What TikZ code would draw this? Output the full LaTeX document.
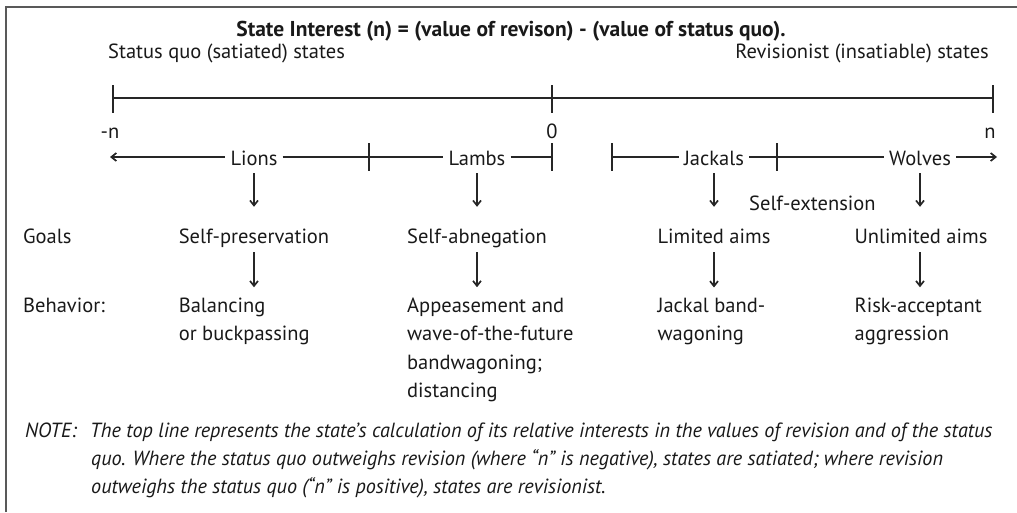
\documentclass[tikz,border=0pt]{standalone}
\usepackage{fontspec}
\usepackage{graphicx}
\setmainfont{PT Sans}
\usetikzlibrary{arrows.meta,calc}
\newcommand{\fs}{\fontsize{20.5}{28.5}\selectfont}
\newcommand{\notesq}[1]{\scalebox{0.985}[1]{#1}}
\begin{document}
\begin{tikzpicture}[x=1pt,y=-1pt,
  >={Straight Barb[length=5pt,width=8pt,line width=1.7pt]},
  every node/.style={inner sep=0pt,font=\fs,text=black!90},
  online/.style={inner xsep=5pt,inner ysep=0pt,text height=16pt,text depth=0pt},
  goal/.style={anchor=base,text height=15pt,text depth=4.5pt},
  axis/.style={line width=1.6pt,black!85},
  arr/.style={line width=1.6pt,black!85,->},
  multi/.style={align=left,anchor=base west},
  ]
\useasboundingbox (0,0) rectangle (1017,512);
% frame
\draw[line width=1.8pt,black!65] (6,512) -- (6,7) -- (1017,7);

% title and headers
\node[font=\bfseries\fontsize{21.5}{26}\selectfont,anchor=base] (title) at (511,36) {State Interest (n) = (value of revison) - (value of status quo).};
\node[anchor=base west] (sq) at (108,58) {Status quo (satiated) states};
\node[anchor=base east] (rv) at (989,58) {Revisionist (insatiable) states};

% top axis
\coordinate (A0) at (113,98);
\coordinate (A1) at (552,98);
\coordinate (A2) at (993,98);
\draw[axis] (A0) -- (A2);
\draw[axis] (A0) ++(0,-13) -- ++(0,28);
\draw[axis] (A1) ++(0,-13) -- ++(0,28);
\draw[axis] (A2) ++(0,-13) -- ++(0,28);
\node[anchor=base] (mn) at (110,138) {-n};
\node[anchor=base] (zero) at (552,138) {0};
\node[anchor=base] (pn) at (990,138) {n};

% second line
\coordinate (L0) at (110,157);
\coordinate (T1) at (369,157);
\coordinate (T2) at (552,157);
\coordinate (T3) at (612,157);
\coordinate (T4) at (777,157);
\coordinate (R0) at (997,157);
\node[online] (lions) at (254,157) {Lions};
\node[online] (lambs) at (477,157) {Lambs};
\node[online] (jackals) at (714,157) {Jackals};
\node[online] (wolves) at (920,157) {Wolves};
\draw[axis,<-] (L0) -- (lions);
\draw[axis] (lions) -- (T1) -- (lambs);
\draw[axis] (lambs) -- (T2);
\draw[axis] (T3) -- (jackals);
\draw[axis] (jackals) -- (T4) -- (wolves);
\draw[arr] (wolves) -- (R0);
\foreach \t in {T1,T2,T3,T4}{\draw[axis] (\t) ++(0,-14) -- ++(0,28);}

\node[anchor=base west] (ext) at (749,210) {Self-extension};

% goals
\node[anchor=base west] (goals) at (23,243) {Goals};
\node[goal] (g1) at (254,243) {Self-preservation};
\node[goal] (g2) at (477,243) {Self-abnegation};
\node[goal] (g3) at (714,243) {Limited aims};
\node[goal] (g4) at (921,243) {Unlimited aims};

% behavior (base = last line)
\node[anchor=base west] (beh) at (23,312) {Behavior:};
\node[multi] (b1) at (g1.west |- 0,340.5) {Balancing\\or buckpassing};
\node[multi] (b2) at (g2.west |- 0,397.5) {Appeasement and\\wave-of-the-future\\bandwagoning;\\distancing};
\node[multi] (b3) at (g3.west |- 0,340.5) {Jackal band-\\wagoning};
\node[multi] (b4) at (g4.west |- 0,340.5) {Risk-acceptant\\aggression};

% arrows
\foreach \a/\g/\b in {lions/g1/b1,lambs/g2/b2,jackals/g3/b3,wolves/g4/b4}{
  \draw[arr,shorten <=8pt,shorten >=21pt] (\a.south) -- (\a.south |- \g.north);
  \draw[arr,shorten <=4.5pt,shorten >=10pt] (\a.south |- \g.south) -- (\a.south |- \b.north);
}

% note
\node[anchor=base west,font=\itshape\fs] (note) at (25,437) {\notesq{NOTE:}};
\node[anchor=base west,font=\itshape\fs] (n1) at (90,437) {\notesq{The top line represents the state’s calculation of its relative interests in the values of revision and of the status}};
\node[anchor=base west,font=\itshape\fs] (n2) at (91,465) {\notesq{quo. Where the status quo outweighs revision (where “n” is negative), states are satiated; where revision}};
\node[anchor=base west,font=\itshape\fs] (n3) at (91,493) {\notesq{outweighs the status quo (“n” is positive), states are revisionist.}};
\end{tikzpicture}
\end{document}
